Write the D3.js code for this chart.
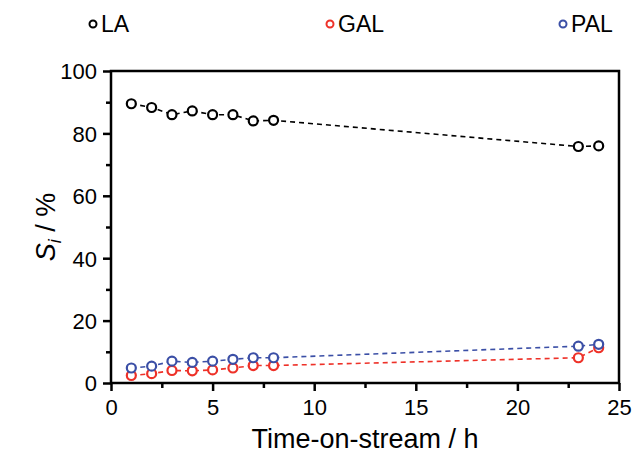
<!DOCTYPE html>
<html>
<head>
<meta charset="utf-8">
<script src="https://cdn.jsdelivr.net/npm/d3@7"></script>
<style>
  body { margin: 0; background: #fff; }
  text { font-family: "Liberation Sans", Arial, sans-serif; }
</style>
</head>
<body>
<div id="chart"></div>
<script>
// data
var hours = [1, 2, 3, 4, 5, 6, 7, 8, 23, 24];
var LA  = [89.5, 88.3, 86.0, 87.2, 86.0, 86.0, 84.0, 84.2, 75.8, 76.0];
var GAL = [2.4, 3.0, 4.0, 3.9, 4.2, 4.8, 5.6, 5.6, 8.1, 11.3];
var PAL = [4.8, 5.4, 7.0, 6.6, 7.0, 7.6, 8.1, 8.1, 11.8, 12.4];
var xTicks = [0, 5, 10, 15, 20, 25];
var yTicks = [0, 20, 40, 60, 80, 100];

var series = [
    { name: "LA",  values: LA,  color: "#000000" },
    { name: "GAL", values: GAL, color: "#ee3128" },
    { name: "PAL", values: PAL, color: "#3b4fa6" }
];

var W = 634, H = 460;
var margin = { top: 71, right: 15, bottom: 77, left: 111 },
    width = W - margin.left - margin.right,
    height = H - margin.top - margin.bottom;

var svg = d3.select("#chart")
    .append("svg")
    .attr("width", W)
    .attr("height", H);

var g = svg.append("g")
    .attr("transform", "translate(" + margin.left + "," + margin.top + ")");

var x = d3.scaleLinear().domain([0, 25]).range([0, width]);
var y = d3.scaleLinear().domain([0, 100]).range([height, 0]);

//////////
// AXES //
//////////

// minor ticks
var xAxisMinor = g.append("g")
    .attr("transform", "translate(0," + height + ")")
    .call(d3.axisBottom(x).tickValues([2.5, 7.5, 12.5, 17.5, 22.5]).tickSize(5).tickFormat(""));
var yAxisMinor = g.append("g")
    .call(d3.axisLeft(y).tickValues([10, 30, 50, 70, 90]).tickSize(5).tickFormat(""));

var xAxis = g.append("g")
    .attr("transform", "translate(0," + height + ")")
    .call(d3.axisBottom(x).tickValues(xTicks).tickSize(8).tickPadding(8));
var yAxis = g.append("g")
    .call(d3.axisLeft(y).tickValues(yTicks).tickSize(8).tickPadding(6));

[xAxisMinor, yAxisMinor, xAxis, yAxis].forEach(function (a) {
    a.select(".domain").remove();
    a.selectAll("line").attr("stroke", "#000").attr("stroke-width", 2.5);
});
xAxis.selectAll("text").style("font-size", "22px").attr("fill", "#000");
yAxis.selectAll("text").style("font-size", "22px").attr("fill", "#000").attr("dy", "0.36em");

// frame
g.append("rect")
    .attr("x", 0).attr("y", 0)
    .attr("width", width).attr("height", height)
    .attr("fill", "none")
    .attr("stroke", "#000")
    .attr("stroke-width", 2.5);

// axis titles
g.append("text")
    .attr("x", width / 2)
    .attr("y", height + 65)
    .attr("text-anchor", "middle")
    .style("font-size", "27px")
    .text("Time-on-stream / h");

var yt = g.append("text")
    .attr("transform", "translate(-56," + (height / 2) + ") rotate(-90)")
    .attr("text-anchor", "middle")
    .style("font-size", "27px");
yt.append("tspan").style("font-style", "italic").text("S");
yt.append("tspan").style("font-style", "italic").style("font-size", "18px").attr("dy", "6").text("i");
yt.append("tspan").attr("dy", "-6").text(" / %");

///////////
// SERIES //
///////////

var line = d3.line()
    .x(function (d) { return x(d[0]); })
    .y(function (d) { return y(d[1]); });

series.forEach(function (s) {
    var pts = hours.map(function (h, i) { return [h, s.values[i]]; });
    g.append("path")
        .datum(pts)
        .attr("d", line)
        .attr("fill", "none")
        .attr("stroke", s.color)
        .attr("stroke-width", 1.6)
        .attr("stroke-dasharray", "5,4");
    g.selectAll(null)
        .data(pts)
        .enter()
        .append("circle")
        .attr("cx", function (d) { return x(d[0]); })
        .attr("cy", function (d) { return y(d[1]); })
        .attr("r", 4.5)
        .attr("fill", "#fff")
        .attr("stroke", s.color)
        .attr("stroke-width", 2.2);
});

////////////
// LEGEND //
////////////
var legendX = [93, 330, 563];
series.forEach(function (s, i) {
    svg.append("circle")
        .attr("cx", legendX[i]).attr("cy", 24).attr("r", 3.5)
        .attr("fill", "#fff")
        .attr("stroke", s.color)
        .attr("stroke-width", 2);
    svg.append("text")
        .attr("x", legendX[i] + 8).attr("y", 32)
        .style("font-size", "23px")
        .text(s.name);
});
</script>
</body>
</html>
